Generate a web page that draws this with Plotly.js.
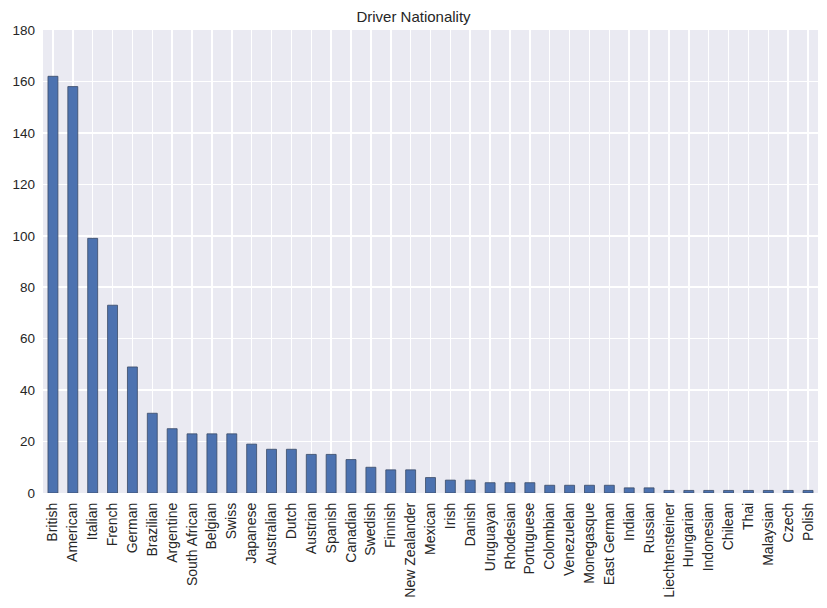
<!DOCTYPE html>
<html>
<head>
<meta charset="utf-8">
<script src="https://cdn.plot.ly/plotly-3.0.1.min.js"></script>
<style>
  html, body { margin: 0; padding: 0; background: #fff; }
  #chart { width: 827px; height: 608px; }
</style>
</head>
<body>
<div id="chart"></div>
<script>
// driver counts per nationality
const nationalities = [
    'British', 'American', 'Italian', 'French', 'German', 'Brazilian', 'Argentine',
    'South African', 'Belgian', 'Swiss', 'Japanese', 'Australian', 'Dutch', 'Austrian',
    'Spanish', 'Canadian', 'Swedish', 'Finnish', 'New Zealander', 'Mexican', 'Irish',
    'Danish', 'Uruguayan', 'Rhodesian', 'Portuguese', 'Colombian', 'Venezuelan',
    'Monegasque', 'East German', 'Indian', 'Russian', 'Liechtensteiner', 'Hungarian',
    'Indonesian', 'Chilean', 'Thai', 'Malaysian', 'Czech', 'Polish'
];
const driverCounts = [
    162, 158, 99, 73, 49, 31, 25,
    23, 23, 23, 19, 17, 17, 15,
    15, 13, 10, 9, 9, 6, 5,
    5, 4, 4, 4, 3, 3,
    3, 3, 2, 2, 1, 1,
    1, 1, 1, 1, 1, 1
];
const yTicks = [0, 20, 40, 60, 80, 100, 120, 140, 160, 180];

let data = [
    {
        x: nationalities,
        y: driverCounts,
        type: 'bar',
        width: 0.5,
        marker: {
            color: '#4C72B0',
            line: { color: '#3a4a66', width: 0.8 }
        },
        hoverinfo: 'x+y'
    }
];

let layout = {
    width: 827,
    height: 608,
    margin: { l: 43, r: 9, t: 30, b: 115 },
    paper_bgcolor: '#ffffff',
    plot_bgcolor: '#EAEAF2',
    font: { family: 'Liberation Sans, Arial, sans-serif', size: 14, color: '#262626' },
    title: {
        text: 'Driver Nationality',
        font: { size: 15, color: '#262626' },
        x: 0.5,
        xanchor: 'center',
        y: 1 - 17 / 608,
        yanchor: 'middle'
    },
    showlegend: false,
    bargap: 0.5,
    xaxis: {
        type: 'category',
        range: [-0.5, nationalities.length - 0.5],
        tickangle: -90,
        showgrid: true,
        gridcolor: '#ffffff',
        gridwidth: 1.5,
        showline: false,
        zeroline: false,
        ticks: '',
        ticklabelstandoff: 6,
        tickfont: { size: 14 }
    },
    yaxis: {
        range: [0, 180],
        tickvals: yTicks,
        showgrid: true,
        gridcolor: '#ffffff',
        gridwidth: 1.5,
        zeroline: false,
        showline: false,
        ticks: '',
        ticklen: 0,
        ticklabelstandoff: 7,
        tickfont: { size: 13.5 }
    }
};

Plotly.newPlot('chart', data, layout, { displayModeBar: false, staticPlot: true });
</script>
</body>
</html>
